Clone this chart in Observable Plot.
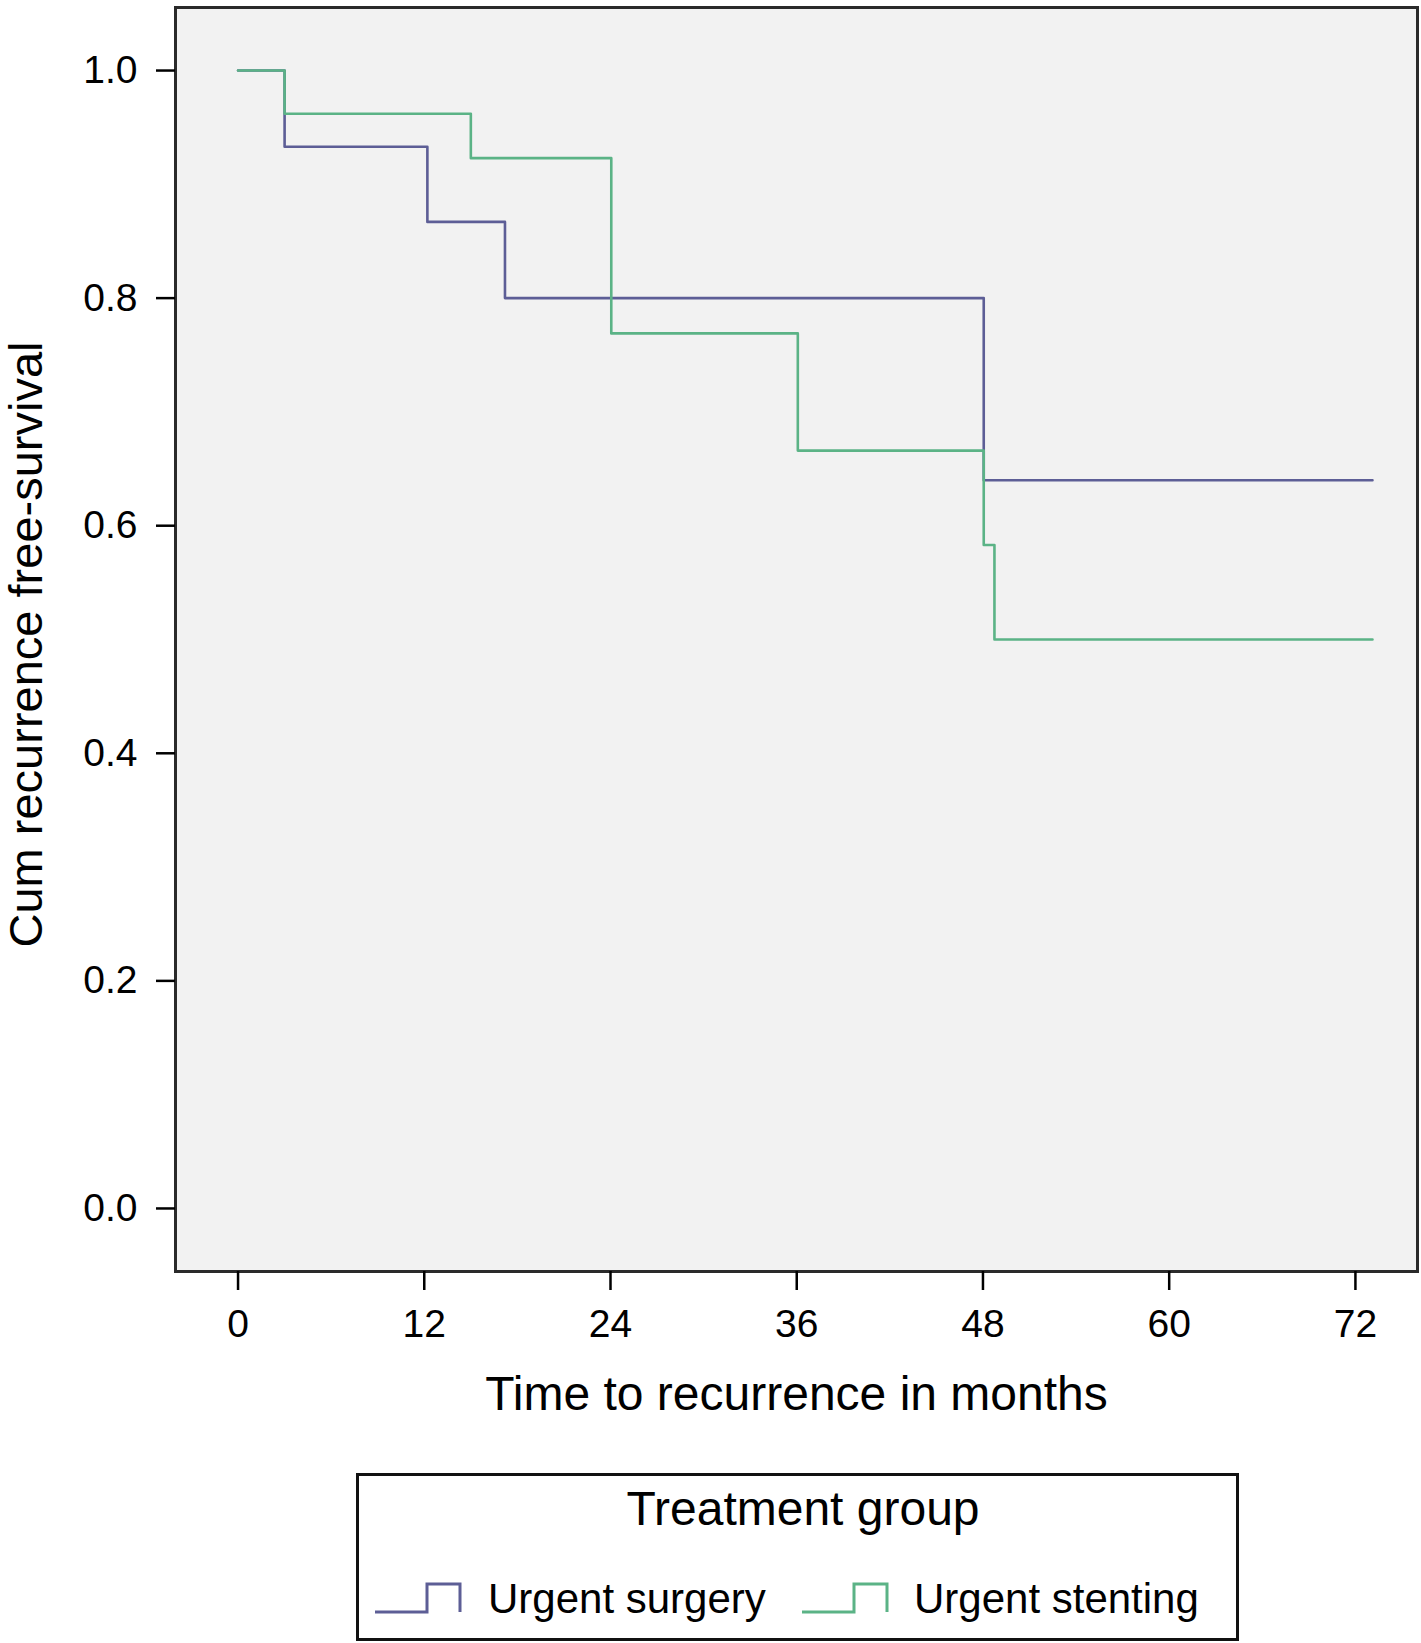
<!DOCTYPE html>
<html>
<head>
<meta charset="utf-8">
<script src="https://cdn.jsdelivr.net/npm/d3@7"></script>
<script src="https://cdn.jsdelivr.net/npm/@observablehq/plot@0.6"></script>
<style>
  html, body { margin: 0; padding: 0; background: #ffffff; }
  #chart svg, #legend svg { display: block; }
  body { font-family: "Liberation Sans", Arial, sans-serif; }
</style>
</head>
<body>
<div id="chart"></div>
<div id="legend"></div>
<script>
// ---- Data ----
const groups = ["Urgent surgery", "Urgent stenting"];
const colors = ["#5d5e96", "#5bb386"];

const surgeryTimes = [0, 3, 12.2, 17.2, 48.05, 73.1];
const surgerySurv  = [1, 0.933, 0.867, 0.8, 0.64, 0.64];

const stentingTimes = [0, 3, 15, 24.05, 36.07, 48.05, 48.74, 73.1];
const stentingSurv  = [1, 0.962, 0.923, 0.769, 0.666, 0.583, 0.5, 0.5];

const xTicks = [0, 12, 24, 36, 48, 60, 72];
const yTicks = [0, 0.2, 0.4, 0.6, 0.8, 1.0];

const xTitle = "Time to recurrence in months";
const yTitle = "Cum recurrence free-survival";
const legendTitle = "Treatment group";

const rows = [
  ...surgeryTimes.map((t, i) => ({group: groups[0], time: t, surv: surgerySurv[i]})),
  ...stentingTimes.map((t, i) => ({group: groups[1], time: t, surv: stentingSurv[i]}))
];

const font = "Liberation Sans, Arial, sans-serif";

const chart = Plot.plot({
  width: 1421,
  height: 1440,
  marginLeft: 175,
  marginRight: 4,
  marginTop: 7,
  marginBottom: 169,
  style: {fontFamily: font, color: "#000", background: "#fff"},
  x: {domain: [-4.03, 76.0]},
  y: {domain: [-0.0554, 1.0554]},
  color: {domain: groups, range: colors},
  marks: [
    Plot.frame({fill: "#f2f2f2"}),
    Plot.line(rows, {x: "time", y: "surv", z: "group", stroke: "group", curve: "step-after", strokeWidth: 2.6}),
    Plot.frame({stroke: "#2a2a2a", strokeWidth: 3}),
    Plot.axisX({ticks: xTicks, tickSize: 19, tickPadding: 19, fontSize: 39, label: null, strokeWidth: 2.5, tickFormat: d3.format("d")}),
    Plot.axisY({ticks: yTicks, tickSize: 19, tickPadding: 19, fontSize: 39, label: null, strokeWidth: 2.5, tickFormat: d3.format(".1f")}),
    Plot.text([xTitle], {frameAnchor: "bottom", text: d => d, textAnchor: "middle", lineAnchor: "top", dy: 104, fontSize: 48, fill: "#000"}),
    Plot.text([yTitle], {frameAnchor: "left", text: d => d, rotate: -90, textAnchor: "middle", lineAnchor: "middle", dx: -149, dy: 5, fontSize: 47, fill: "#000"})
  ]
});
document.getElementById("chart").appendChild(chart);

// ---- Legend below the chart ----
const lw = 1421, lh = 203;
const leg = d3.create("svg").attr("width", lw).attr("height", lh)
  .style("font-family", font);
leg.append("rect").attr("x", 357.5).attr("y", 34.5).attr("width", 880).attr("height", 165)
  .attr("fill", "#fff").attr("stroke", "#111").attr("stroke-width", 3);
leg.append("text").attr("x", 803).attr("y", 85).attr("text-anchor", "middle")
  .attr("font-size", 48).attr("fill", "#000").text(legendTitle);
const iconX = [375, 802];
const textX = [488, 914];
groups.forEach((g, i) => {
  const x0 = iconX[i];
  leg.append("path")
    .attr("d", `M${x0},172 H${x0 + 52} V144 H${x0 + 85} V172`)
    .attr("fill", "none").attr("stroke", colors[i]).attr("stroke-width", 3);
  leg.append("text").attr("x", textX[i]).attr("y", 173).attr("font-size", 42)
    .attr("fill", "#000").text(g);
});
document.getElementById("legend").appendChild(leg.node());
</script>
</body>
</html>
